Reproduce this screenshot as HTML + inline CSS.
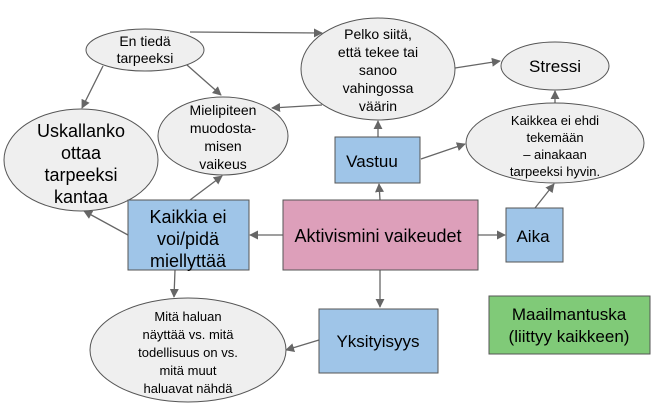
<!DOCTYPE html>
<html><head><meta charset="utf-8"><style>
html,body{margin:0;padding:0;background:#fff}
svg{display:block}
text{font-family:"Liberation Sans",Arial,sans-serif;fill:#000;text-anchor:middle}
</style></head><body>
<svg width="662" height="409" viewBox="0 0 662 409" xmlns="http://www.w3.org/2000/svg">
<defs>
<marker id="a" viewBox="0 0 10 10" refX="9" refY="5" markerWidth="9" markerHeight="9" markerUnits="userSpaceOnUse" orient="auto"><path d="M0,0L10,5L0,10z" fill="#666"/></marker>
</defs>
<g stroke="#666" stroke-width="1.3" fill="none" marker-end="url(#a)">
<line x1="190" y1="32" x2="322" y2="33"/>
<line x1="103" y1="66" x2="82" y2="108"/>
<line x1="187" y1="65" x2="221" y2="95"/>
<line x1="322" y1="105" x2="272" y2="108"/>
<line x1="455" y1="68" x2="500" y2="61"/>
<line x1="378" y1="137" x2="378" y2="121"/>
<line x1="421" y1="159" x2="465" y2="144"/>
<line x1="380" y1="200" x2="379" y2="184"/>
<line x1="478" y1="235" x2="505" y2="235"/>
<line x1="535" y1="208" x2="554" y2="184"/>
<line x1="555" y1="104" x2="555" y2="91"/>
<line x1="283" y1="235" x2="250" y2="235"/>
<line x1="190" y1="200" x2="222" y2="176"/>
<line x1="128" y1="235" x2="84" y2="211"/>
<line x1="175" y1="270" x2="174" y2="297"/>
<line x1="380" y1="270" x2="380" y2="307"/>
<line x1="319" y1="340" x2="286" y2="350"/>
</g>
<g fill="#efefef" stroke="#555" stroke-width="1">
<ellipse cx="145" cy="50" rx="59" ry="21"/>
<ellipse cx="81" cy="160" rx="77" ry="51"/>
<ellipse cx="223" cy="136" rx="65" ry="39"/>
<ellipse cx="378" cy="69" rx="77" ry="51"/>
<ellipse cx="555" cy="66" rx="54" ry="24"/>
<ellipse cx="555" cy="143" rx="89" ry="40"/>
<ellipse cx="188" cy="350" rx="98" ry="52"/>
</g>
<g stroke="#555" stroke-width="1">
<rect x="335" y="137" width="85" height="46" fill="#9fc5e8"/>
<rect x="283" y="200" width="195" height="70" fill="#dd9fba"/>
<rect x="506" y="208" width="57" height="54" fill="#9fc5e8"/>
<rect x="128" y="200" width="121" height="70" fill="#9fc5e8"/>
<rect x="319" y="309" width="119" height="64" fill="#9fc5e8"/>
<rect x="489" y="296" width="161" height="58" fill="#80ca78"/>
</g>
<g font-size="14">
<text x="145" y="46">En tiedä</text><text x="145" y="63">tarpeeksi</text>
<text x="223" y="115">Mielipiteen</text><text x="223" y="133">muodosta-</text><text x="223" y="151">misen</text><text x="223" y="169">vaikeus</text>
<text x="378" y="39">Pelko siitä,</text><text x="378" y="57">että tekee tai</text><text x="378" y="75">sanoo</text><text x="378" y="93">vahingossa</text><text x="378" y="111">väärin</text>
</g>
<g font-size="13">
<text x="555" y="125">Kaikkea ei ehdi</text><text x="555" y="142">tekemään</text><text x="555" y="159">– ainakaan</text><text x="555" y="176">tarpeeksi hyvin.</text>
<text x="188" y="321">Mitä haluan</text><text x="188" y="339">näyttää vs. mitä</text><text x="188" y="357">todellisuus on vs.</text><text x="188" y="375">mitä muut</text><text x="188" y="393">haluavat nähdä</text>
</g>
<g font-size="18">
<text x="81" y="137">Uskallanko</text><text x="81" y="159">ottaa</text><text x="81" y="181">tarpeeksi</text><text x="81" y="203">kantaa</text>
<text x="188" y="223">Kaikkia ei</text><text x="188" y="245">voi/pidä</text><text x="188" y="267">miellyttää</text>
<text x="378" y="242">Aktivismini vaikeudet</text>
</g>
<g font-size="17">
<text x="555" y="72">Stressi</text>
<text x="372" y="167">Vastuu</text>
<text x="533" y="242">Aika</text>
<text x="378" y="347">Yksityisyys</text>
<text x="569" y="320">Maailmantuska</text><text x="569" y="342">(liittyy kaikkeen)</text>
</g>
</svg>
</body></html>
